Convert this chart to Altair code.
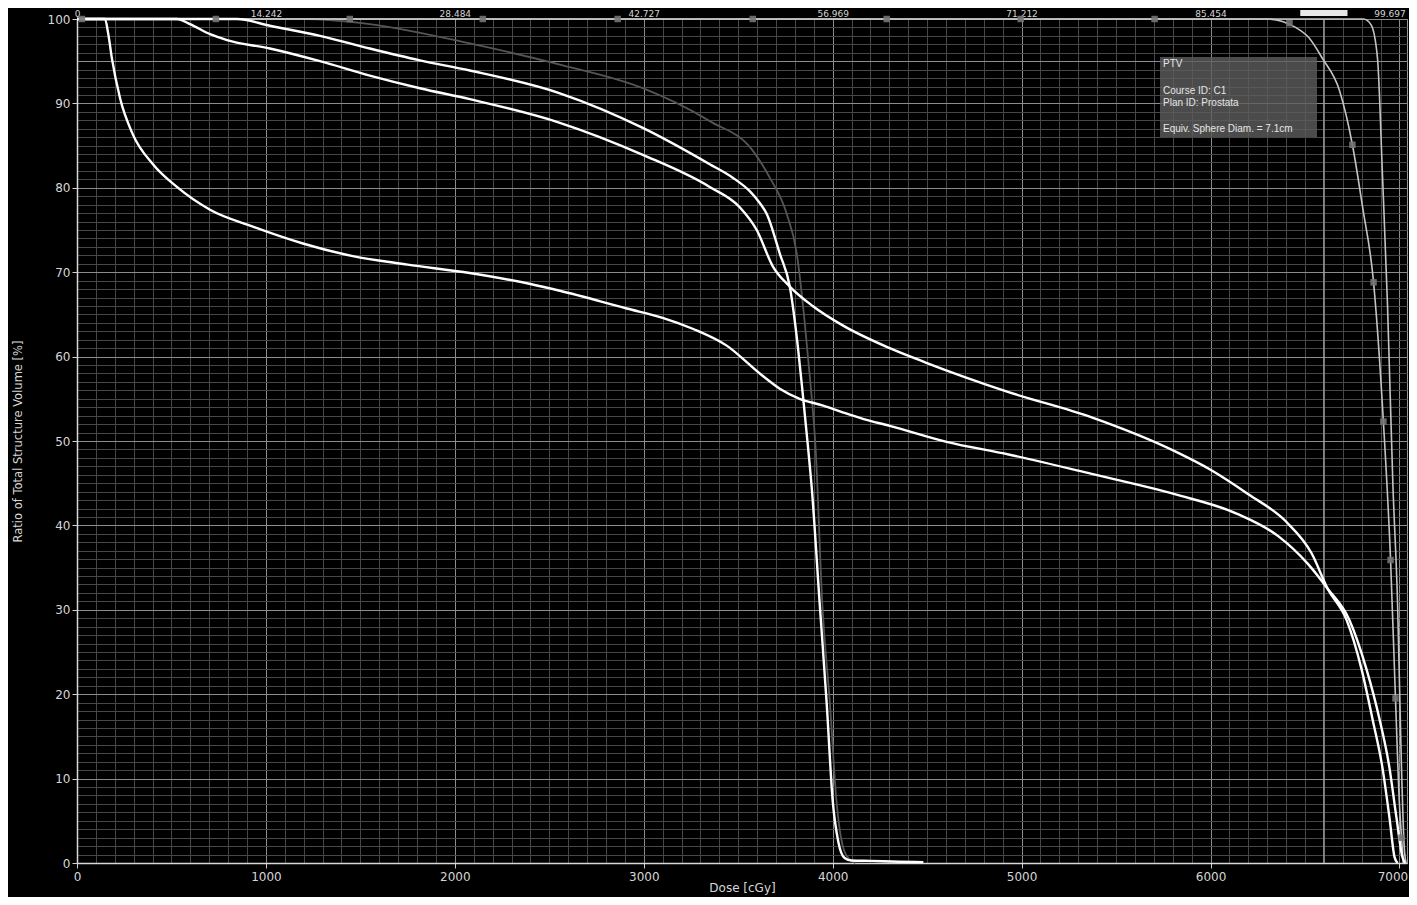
import altair as alt
import pandas as pd

# ---------------- data ----------------
# White curve with the earliest fall-off
a_dose = [0, 148, 165, 185, 228, 296, 402, 529, 704, 931, 1196, 1460, 1750, 2079, 2400, 2556, 2910, 3100,
          3259, 3439, 3614, 3720, 3825, 3950, 4053, 4164, 4302, 4603, 4931, 5371, 5810, 6138, 6360, 6513,
          6620, 6735, 6825, 6894, 6947, 6984, 7016, 7030]
a_vol = [100, 100, 98.3, 95.3, 90.6, 86.3, 82.8, 80.1, 77.4, 75.4, 73.4, 71.9, 70.9, 69.9, 68.6, 67.8, 65.7, 64.6,
         63.3, 61.3, 58.0, 56.2, 55.0, 54.2, 53.4, 52.6, 51.8, 49.9, 48.4, 46.1, 43.7, 41.4, 38.7, 35.5,
         32.5, 28.8, 23.0, 17.1, 11.3, 5.4, 0.7, 0]

# White curve, middle
b_dose = [0, 529, 598, 704, 794, 1021, 1286, 1550, 1815, 2079, 2556, 2995, 3349, 3508, 3598, 3683, 3773, 3894,
          4053, 4302, 4492, 4931, 5371, 5810, 6000, 6200, 6402, 6535, 6620, 6720, 6799, 6857, 6910, 6947, 6974,
          6990]
b_vol = [100, 100, 99.4, 98.2, 97.5, 96.5, 95.0, 93.3, 91.8, 90.5, 87.7, 83.9, 80.1, 77.7, 75.0, 70.7, 68.3, 66.0,
         63.7, 61.0, 59.3, 55.8, 52.8, 48.8, 46.6, 43.7, 40.4, 36.7, 32.5, 28.8, 23.0, 17.1, 11.3, 5.4, 0.7,
         0]

# White curve, upper, steep drop near 4000 cGy
c_dose = [0, 847, 1021, 1286, 1550, 1815, 2079, 2556, 2995, 3349, 3471, 3561, 3614, 3651, 3720, 3773, 3815, 3842,
          3868, 3889, 3931, 3968, 4000, 4030, 4063, 4100, 4200, 4350, 4480]
c_vol = [100, 100, 99.2, 98.0, 96.5, 95.1, 93.9, 91.2, 87.1, 82.8, 81.2, 79.6, 78.2, 76.9, 72.2, 68.3, 61.3, 55.5,
         49.6, 44.5, 30.8, 19.0, 7.4, 2.5, 0.6, 0.3, 0.25, 0.15, 0.1]

# Dark grey curve
d_dose = [0, 1196, 1550, 2079, 2556, 2995, 3349, 3577, 3667, 3757, 3810, 3850, 3880, 3910, 3945, 3985, 4020,
          4060, 4095, 4120]
d_vol = [100, 100, 99.4, 97.1, 94.6, 91.8, 87.9, 84.4, 81.2, 76.9, 72.2, 64.5, 57.4, 49.0, 30.8, 19.0, 7.4,
         1.5, 0.3, 0]

# PTV curves (light grey)
ptv1_dose = [0, 6300, 6381, 6450, 6520, 6593, 6683, 6751, 6805, 6863, 6915, 6953, 6979, 7000, 7011, 7020]
ptv1_vol = [100, 100, 99.7, 99.0, 97.8, 95.3, 91.5, 85.1, 77.7, 68.8, 52.3, 35.9, 19.5, 7.0, 3.0, 0]
ptv2_dose = [0, 6810, 6850, 6884, 6910, 6937, 6965, 6990, 7010, 7025, 7035]
ptv2_vol = [100, 100, 99.3, 95.3, 81.6, 66.0, 45.0, 30.8, 12.0, 2.0, 0]

# Square markers along the PTV curve
marker_dose = [26, 735, 1444, 2148, 2862, 3577, 4286, 4995, 5704, 6418, 6751, 6863, 6915, 6953, 6979, 7011]
marker_vol = [100, 100, 100, 100, 100, 100, 100, 100, 100, 99.5, 85.1, 68.8, 52.3, 35.9, 19.5, 3.0]

cursor_dose = [6600]

x_tick_values = [0, 1000, 2000, 3000, 4000, 5000, 6000, 7000]
top_tick_labels = ["0", "14.242", "28.484", "42.727", "56.969", "71.212", "85.454", "99.697"]
y_tick_values = [0, 10, 20, 30, 40, 50, 60, 70, 80, 90, 100]

legend_lines = ["PTV", "Course ID: C1", "Plan ID: Prostata", "Equiv. Sphere Diam. = 7.1cm"]

# ---------------- layout / style constants ----------------
W, H = 1330, 844
FONT = "DejaVu Sans"
LABEL_C = "#d6d6d6"
legend_line_y = [45, 72, 84, 110]        # pixel rows of the legend lines inside the plot

# ---------------- tables ----------------
def frame(name, dose, vol):
    return pd.DataFrame({"curve": name, "dose": dose, "vol": vol, "order": list(range(len(dose)))})

white_df = pd.concat([frame("a", a_dose, a_vol), frame("b", b_dose, b_vol), frame("c", c_dose, c_vol)])
dark_df = frame("d", d_dose, d_vol)
ptv_df = pd.concat([frame("p1", ptv1_dose, ptv1_vol), frame("p2", ptv2_dose, ptv2_vol)])
marker_df = pd.DataFrame({"dose": marker_dose, "vol": marker_vol})
cursor_df = pd.DataFrame({"dose": cursor_dose})

x_scale = alt.Scale(domain=[0, 7040], nice=False, zero=False)
y_scale = alt.Scale(domain=[0, 100], nice=False)

x_grid = list(range(0, 7001, 100))
y_grid = list(range(0, 101))

x_axis = alt.Axis(
    orient="bottom", values=x_grid, format="d",
    labelExpr="indexof([%s], datum.value) >= 0 ? datum.label : ''" % ",".join(str(v) for v in x_tick_values),
    labelOverlap=False, labelFlush=False,
    labelOffset={"condition": {"test": "datum.value === 7000", "value": -7}, "value": 0},
    grid=True, gridWidth=1,
    gridColor={"condition": {"test": "datum.value % 1000 === 0", "value": "#8c8c8c"}, "value": "#474747"},
    tickOpacity={"condition": {"test": "datum.value % 1000 === 0", "value": 1}, "value": 0},
    tickSize=5, tickColor="#cfcfcf", labelPadding=3,
    labelColor=LABEL_C, labelFont=FONT, labelFontSize=12,
    domainColor="#d8d8d8", domainWidth=1.5,
    title="Dose [cGy]", titleFont=FONT, titleFontSize=12, titleFontWeight="normal",
    titleColor=LABEL_C, titleX=W / 2, titleY=24, titleBaseline="middle", titleAlign="center",
)

y_axis = alt.Axis(
    orient="left", values=y_grid,
    labelExpr="indexof([%s], datum.value) >= 0 ? datum.label : ''" % ",".join(str(v) for v in y_tick_values),
    labelOverlap=False, labelFlush=False,
    grid=True, gridWidth=1,
    gridColor={"condition": {"test": "datum.value % 10 === 0 || datum.value === 95", "value": "#8c8c8c"},
               "value": "#474747"},
    tickOpacity={"condition": {"test": "datum.value % 10 === 0", "value": 1}, "value": 0},
    tickSize=5, tickColor="#cfcfcf", labelPadding=2,
    labelColor=LABEL_C, labelFont=FONT, labelFontSize=12,
    domainColor="#d8d8d8", domainWidth=1.5,
    title="Ratio of Total Structure Volume [%]", titleFont=FONT, titleFontSize=11.5,
    titleFontWeight="normal", titleColor=LABEL_C, titleX=-54, titleY=H / 2, titleAngle=270,
)

top_axis = alt.Axis(
    orient="top", values=x_tick_values,
    labelExpr="[%s][round(datum.value / 1000)]" % ",".join("'%s'" % s for s in top_tick_labels),
    labelOverlap=False, labelFlush=False, grid=False, domain=False,
    labelOffset={"condition": {"test": "datum.value === 7000", "value": -10}, "value": 0},
    tickSize=0, tickColor="#cfcfcf", labelPadding=1,
    labelColor=LABEL_C, labelFont=FONT, labelFontSize=9, title=None,
)

X_ENC = alt.X("dose:Q", scale=x_scale, axis=None)
Y_ENC = alt.Y("vol:Q", scale=y_scale, axis=y_axis)

# Layer carrying the bottom and left axes with their grids
frame_layer = alt.Chart(white_df).mark_line(opacity=0).encode(
    x=alt.X("dose:Q", scale=x_scale, axis=x_axis),
    y=Y_ENC,
    detail="curve:N", order="order:Q",
)

dark = alt.Chart(dark_df).mark_line(color="#555555", strokeWidth=1.8, interpolate="monotone").encode(
    x=X_ENC, y=Y_ENC, detail="curve:N", order="order:Q",
)

ptv = alt.Chart(ptv_df).mark_line(color="#c4c4c4", strokeWidth=1.6, interpolate="monotone").encode(
    x=X_ENC, y=Y_ENC, detail="curve:N", order="order:Q",
)

white = alt.Chart(white_df).mark_line(color="#ffffff", strokeWidth=2.4, interpolate="monotone").encode(
    x=X_ENC, y=Y_ENC, detail="curve:N", order="order:Q",
)

cursor = alt.Chart(cursor_df).mark_rule(color="#a8a8a8", strokeWidth=1.3).encode(x=X_ENC)

cursor_tag = alt.Chart(cursor_df).transform_calculate(
    lo="datum.dose - 125", hi="datum.dose + 125"
).mark_rect(color="#e8e8e8").encode(
    x=alt.X("lo:Q", scale=x_scale, axis=None), x2="hi:Q",
    y=alt.value(-9), y2=alt.value(-3),
)

markers = alt.Chart(marker_df).mark_square(size=42, color="#747474", opacity=0.9).encode(
    x=alt.X("dose:Q", scale=x_scale, axis=top_axis),
    y=Y_ENC,
)

one = pd.DataFrame({"k": [0]})
legend_box = alt.Chart(one).mark_rect(fill="#5e5e5e", opacity=0.8).encode(
    x=alt.value(1083), x2=alt.value(1240), y=alt.value(38), y2=alt.value(118),
)
legend_texts = [
    alt.Chart(one).mark_text(
        align="left", baseline="middle", font="Liberation Sans", fontSize=10, color="#e6e6e6",
    ).encode(x=alt.value(1086), y=alt.value(yy), text=alt.value(line))
    for line, yy in zip(legend_lines, legend_line_y)
]

chart = alt.layer(
    frame_layer, dark, cursor, cursor_tag, ptv, white, markers, legend_box, *legend_texts
).resolve_axis(x="independent").properties(
    width=W, height=H,
    autosize=alt.AutoSizeParams(type="none"),
    padding={"left": 69, "top": 11, "right": 2, "bottom": 34},
    background="black",
).configure_view(stroke="#9a9a9a", strokeWidth=1)

chart.save("out.html", embed_options={"renderer": "svg", "actions": False})
